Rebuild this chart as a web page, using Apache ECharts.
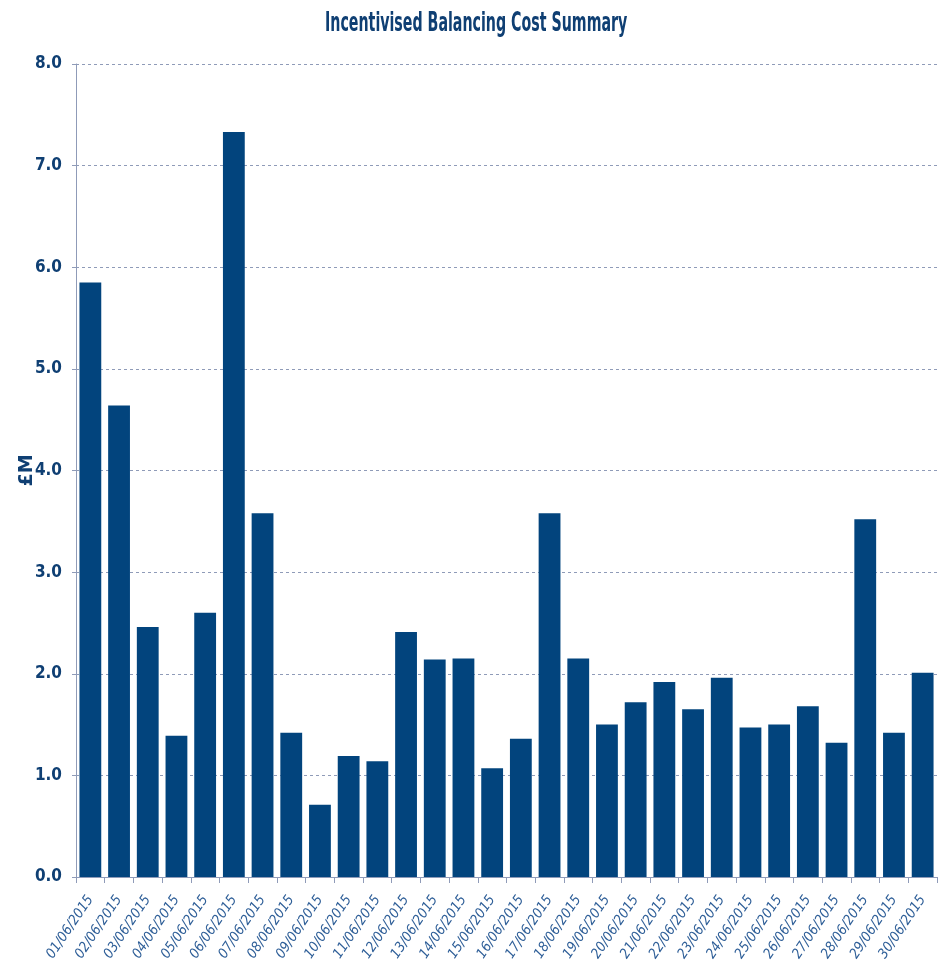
<html><head><meta charset="utf-8"><script src="https://cdn.jsdelivr.net/npm/echarts@6/dist/echarts.min.js"></script>
<style>html,body{height:100%;margin:0;padding:0;background:#fff}</style></head>
<body><div id="main" style="width:939px;height:960px;"></div>
<script type="text/javascript">
var dates = ['01/06/2015','02/06/2015','03/06/2015','04/06/2015','05/06/2015','06/06/2015','07/06/2015','08/06/2015','09/06/2015','10/06/2015',
  '11/06/2015','12/06/2015','13/06/2015','14/06/2015','15/06/2015','16/06/2015','17/06/2015','18/06/2015','19/06/2015','20/06/2015',
  '21/06/2015','22/06/2015','23/06/2015','24/06/2015','25/06/2015','26/06/2015','27/06/2015','28/06/2015','29/06/2015','30/06/2015'];
var costs = [5.85, 4.64, 2.46, 1.39, 2.60, 7.33, 3.58, 1.42, 0.71, 1.19,
  1.14, 2.41, 2.14, 2.15, 1.07, 1.36, 3.58, 2.15, 1.50, 1.72,
  1.92, 1.65, 1.96, 1.47, 1.50, 1.68, 1.32, 3.52, 1.42, 2.01];

var myChart = echarts.init(document.getElementById('main'));
var narrow = 'DejaVu Sans Condensed';
var option = {
  animation: false,
  // the title is squeezed sideways like the reference lettering
  graphic: [{
    type: 'text', left: 325, top: 10, scaleX: 0.585, scaleY: 1,
    style: {text: 'Incentivised Balancing Cost Summary', fill: '#0f3f73',
      font: 'bold 27px DejaVu Sans Condensed'}
  }],
  grid: {left: 76, right: 2, top: 64, bottom: 83, outerBoundsMode: 'none'},
  xAxis: {
    type: 'category',
    data: dates,
    axisLine: {lineStyle: {color: '#8f9bb8'}},
    axisTick: {show: true, length: 6, lineStyle: {color: '#8f9bb8'}},
    axisLabel: {interval: 0, rotate: 56, color: '#2f5f98', fontSize: 14, fontStyle: 'italic',
      fontFamily: narrow, margin: 20}
  },
  yAxis: {
    type: 'value', min: 0, max: 8, interval: 1,
    name: '£M', nameLocation: 'middle', nameGap: 39, nameRotate: 90, nameMoveOverlap: false,
    nameTextStyle: {color: '#0f3f73', fontSize: 19, fontWeight: 'bold', fontFamily: 'DejaVu Sans'},
    axisLine: {show: true, lineStyle: {color: '#8f9bb8'}},
    axisTick: {show: true, length: 4, lineStyle: {color: '#8f9bb8'}},
    axisLabel: {formatter: function (v) { return v.toFixed(1); }, color: '#0f3f73', fontSize: 17,
      fontWeight: 'bold', fontFamily: narrow, margin: 14},
    splitLine: {lineStyle: {color: '#8f9bb8', type: [3, 3], width: 1}}
  },
  series: [{
    type: 'bar',
    data: costs,
    barCategoryGap: '24%',
    itemStyle: {color: '#02447d'}
  }]
};
myChart.setOption(option);
</script></body></html>
